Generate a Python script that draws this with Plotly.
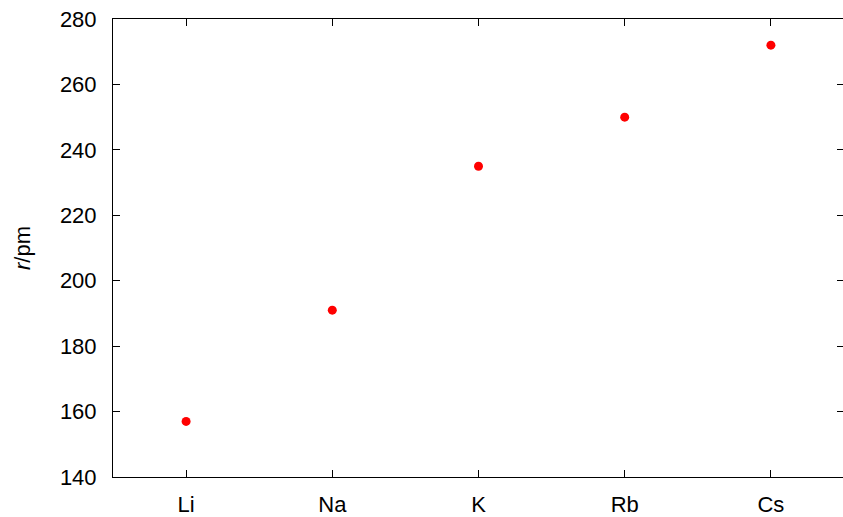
import plotly.graph_objects as go

elements = ["Li", "Na", "K", "Rb", "Cs"]
radius_pm = [157, 191, 235, 250, 272]
y_ticks = [140, 160, 180, 200, 220, 240, 260, 280]

fig = go.Figure()
fig.add_trace(go.Scatter(
    x=list(range(len(elements))), y=radius_pm, mode="markers",
    marker=dict(color="#ff0000", size=9, line=dict(width=0)),
    showlegend=False,
))

font = dict(family="Liberation Sans, Arial, sans-serif", size=22, color="black")
axis_common = dict(
    showline=True, linecolor="black", linewidth=1, mirror="ticks",
    ticks="inside", ticklen=7, tickwidth=1, tickcolor="black",
    showgrid=False, zeroline=False, tickfont=font,
)
fig.update_xaxes(
    range=[-0.5, 4.5], tickmode="array",
    tickvals=list(range(len(elements))), ticktext=elements,
    ticklabelstandoff=8, **axis_common,
)
fig.update_yaxes(
    range=[140, 280], tickmode="array", tickvals=y_ticks,
    ticktext=[str(v) for v in y_ticks], ticklabelstandoff=11,
    title=dict(text="<i>r</i>/pm", font=font, standoff=23),
    **axis_common,
)
fig.update_layout(
    width=844, height=517,
    margin=dict(l=113, r=0, t=19, b=40),
    paper_bgcolor="white", plot_bgcolor="white",
    font=font,
)
fig.write_html("out.html",
               config={"displayModeBar": False},
               post_script="document.body.style.margin='0';document.body.style.overflow='hidden';")
